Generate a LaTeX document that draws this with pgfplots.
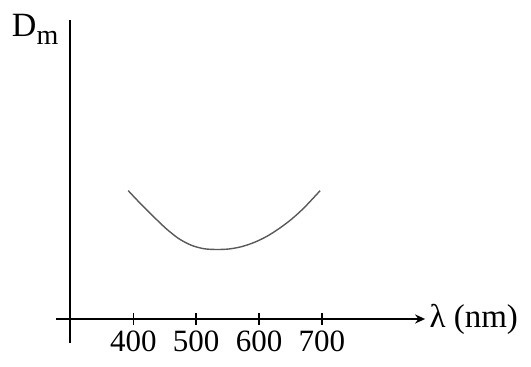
\documentclass[border=0pt]{standalone}
\usepackage{fontspec}
\setmainfont{Liberation Serif}
\usepackage{pgfplots}
\pgfplotsset{compat=1.18}
\usetikzlibrary{arrows.meta}

\begin{document}
\begin{tikzpicture}
\begin{axis}[
  x=0.3145pt, y=0.5pt,
  axis lines=middle,
  xmin=-23, xmax=564, ymin=-24, ymax=299,
  enlargelimits=false, clip=false,
  axis line style={line width=0.9pt, black},
  x axis line style={-{Stealth[length=5pt,width=4.5pt]}},
  y axis line style={-},
  xtick={100,200,300,400}, xticklabels={400,500,600,700},
  ytick=\empty,
  tick align=center, major tick length=6pt,
  tick style={line width=0.7pt, black},
  xticklabel style={font=\fontsize{15.5}{18}\selectfont, inner sep=0pt, yshift=-2.5pt},
  xlabel={λ (nm)},
  ylabel={D\raisebox{-4pt}{\fontsize{14}{16}\selectfont m}},
  every axis x label/.style={at={(axis cs:564,0)}, anchor=west, inner sep=2pt,
    font=\fontsize{16.5}{19}\selectfont},
  every axis y label/.style={at={(axis cs:-56,290)}, anchor=center, inner sep=0pt,
    font=\fontsize{17}{20}\selectfont},
]
% minimum deviation against wavelength
\addplot[smooth, black!65, line width=0.7pt] table[x expr=\thisrowno{0}-300, y index=1] {
392 128.3
412 115.0
432 102.5
452 90.5
472 80.5
492 73.8
512 70.3
532 69.5
552 70.0
572 72.3
592 76.5
612 82.5
632 90.5
652 100.0
672 111.5
697 128.3
};
\coordinate (bl) at (axis cs:-111.9,-48);
\coordinate (tr) at (axis cs:732.3,319);
\end{axis}
\path (bl) rectangle (tr);
\end{tikzpicture}
\end{document}
